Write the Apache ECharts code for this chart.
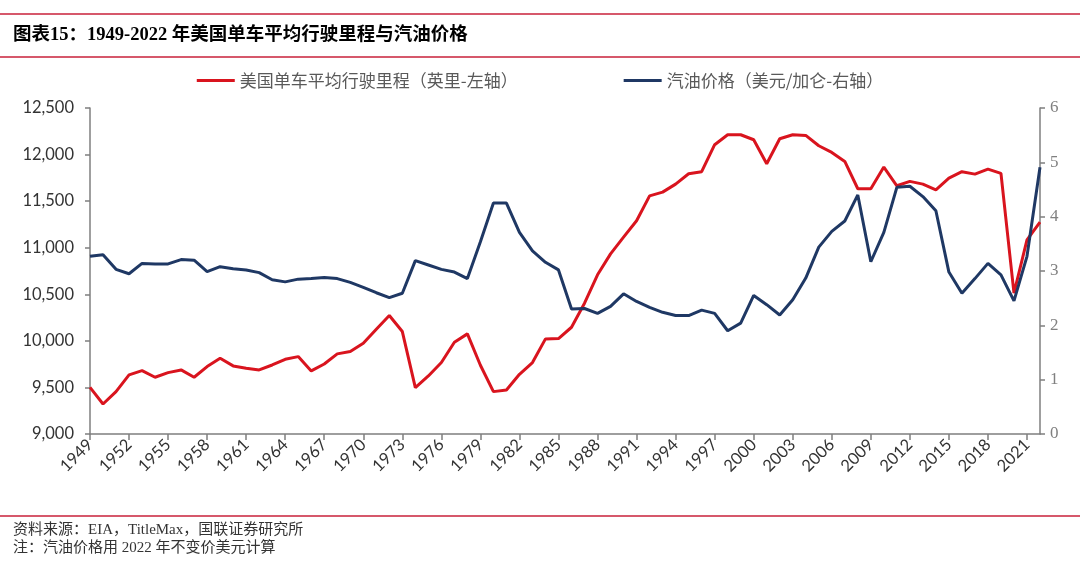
<!DOCTYPE html>
<html>
<head>
<meta charset="utf-8">
<script src="https://cdn.jsdelivr.net/npm/echarts@6/dist/echarts.min.js"></script>
<style>
html,body{margin:0;padding:0;background:#fff;}
#chart{width:1080px;height:563px;}
</style>
</head>
<body>
<div id="chart"></div>
<script>
const years = [];
for (let y = 1949; y <= 2022; y++) years.push(String(y));

const mileage = [
  9500, 9322, 9455, 9634, 9680, 9609, 9659, 9688, 9609, 9724,
  9813, 9731, 9706, 9688, 9741, 9802, 9831, 9677, 9752, 9860,
  9885, 9974, 10125, 10272, 10100, 9498, 9623, 9767, 9985, 10075,
  9738, 9455, 9473, 9641, 9767, 10021, 10025, 10146, 10404, 10709,
  10934, 11113, 11289, 11557, 11597, 11683, 11794, 11816, 12106, 12213,
  12213, 12159, 11901, 12170, 12213, 12206, 12095, 12023, 11926, 11633,
  11633, 11866, 11665, 11712, 11683, 11622, 11747, 11816, 11790, 11844,
  11798, 10512, 11085, 11275
];

const gasPrice = [
  3.27, 3.30, 3.03, 2.95, 3.14, 3.13, 3.13, 3.21, 3.20, 2.99,
  3.08, 3.04, 3.02, 2.97, 2.84, 2.80, 2.85, 2.86, 2.88, 2.86,
  2.79, 2.70, 2.60, 2.51, 2.59, 3.19, 3.11, 3.03, 2.98, 2.86,
  3.54, 4.25, 4.25, 3.71, 3.37, 3.16, 3.02, 2.30, 2.31, 2.22,
  2.35, 2.58, 2.44, 2.33, 2.24, 2.18, 2.18, 2.28, 2.22, 1.90,
  2.04, 2.55, 2.38, 2.19, 2.47, 2.87, 3.44, 3.73, 3.92, 4.40,
  3.17, 3.71, 4.54, 4.56, 4.37, 4.11, 2.98, 2.59, 2.86, 3.14,
  2.93, 2.45, 3.27, 4.91
];

const leftTicks = [9000, 12500, 500];
const rightTicks = [0, 6, 1];

const titleText = '图表15：1949-2022 年美国单车平均行驶里程与汽油价格';
const seriesNames = ['美国单车平均行驶里程（英里-左轴）', '汽油价格（美元/加仑-右轴）'];
const footer1 = '资料来源：EIA，TitleMax，国联证券研究所';
const footer2 = '注：汽油价格用 2022 年不变价美元计算';

const chart = echarts.init(document.getElementById('chart'), null, {renderer: 'canvas'});
const RED = '#D9141E';
const BLUE = '#1F3864';
const AXIS = '#7F7F7F';

chart.setOption({
  backgroundColor: '#fff',
  animation: false,
  graphic: [
    {type: 'line', shape: {x1: 0, y1: 14, x2: 1080, y2: 14}, style: {stroke: '#C8203A', lineWidth: 1.5}},
    {type: 'line', shape: {x1: 0, y1: 57, x2: 1080, y2: 57}, style: {stroke: '#C8203A', lineWidth: 1.5}},
    {type: 'text', left: 13, top: 26, style: {text: titleText, fontSize: 18.5, fontWeight: 'bold', fill: '#000', fontFamily: '"Liberation Serif","Noto Sans CJK SC",serif'}},
    {type: 'line', shape: {x1: 0, y1: 516, x2: 1080, y2: 516}, style: {stroke: '#C8203A', lineWidth: 1.5}},
    {type: 'text', left: 13, top: 523, style: {text: footer1, fontSize: 15, fill: '#333', fontFamily: '"Liberation Serif","Noto Sans CJK SC",serif'}},
    {type: 'text', left: 13, top: 541, style: {text: footer2, fontSize: 15, fill: '#333', fontFamily: '"Liberation Serif","Noto Sans CJK SC",serif'}}
  ],
  legend: {
    top: 67,
    left: 'center',
    itemGap: 106,
    itemWidth: 38,
    itemHeight: 3,
    icon: 'rect',
    textStyle: {color: '#595959', fontSize: 17, fontFamily: '"Noto Sans CJK SC",sans-serif'},
    data: seriesNames
  },
  grid: {left: 90, right: 40, top: 108, bottom: 129, containLabel: false},
  xAxis: {
    type: 'category',
    data: years,
    boundaryGap: false,
    axisLine: {lineStyle: {color: AXIS, width: 1.5}},
    axisTick: {show: true, interval: 2, length: 6, lineStyle: {color: AXIS, width: 1.5}},
    axisLabel: {interval: 2, rotate: 45, color: '#333', fontSize: 16.5, fontFamily: 'Lato, sans-serif', margin: 8}
  },
  yAxis: [
    {
      type: 'value',
      min: leftTicks[0], max: leftTicks[1], interval: leftTicks[2],
      splitLine: {show: false},
      axisLine: {show: true, lineStyle: {color: AXIS, width: 1.5}},
      axisTick: {show: true, length: 5, lineStyle: {color: AXIS, width: 1.5}},
      axisLabel: {color: '#333', fontSize: 16.5, fontFamily: 'Lato, sans-serif', margin: 16,
        formatter: v => v.toLocaleString('en-US')}
    },
    {
      type: 'value',
      position: 'right',
      min: rightTicks[0], max: rightTicks[1], interval: rightTicks[2],
      splitLine: {show: false},
      axisLine: {show: true, lineStyle: {color: AXIS, width: 1.5}},
      axisTick: {show: true, length: 5, lineStyle: {color: AXIS, width: 1.5}},
      axisLabel: {color: '#808080', fontSize: 17, fontFamily: '"Liberation Serif", serif', margin: 10}
    }
  ],
  series: [
    {
      name: seriesNames[0], type: 'line', yAxisIndex: 0, data: mileage,
      symbol: 'none', lineStyle: {color: RED, width: 3}, itemStyle: {color: RED}
    },
    {
      name: seriesNames[1], type: 'line', yAxisIndex: 1, data: gasPrice,
      symbol: 'none', lineStyle: {color: BLUE, width: 3}, itemStyle: {color: BLUE}
    }
  ]
});
</script>
</body>
</html>
